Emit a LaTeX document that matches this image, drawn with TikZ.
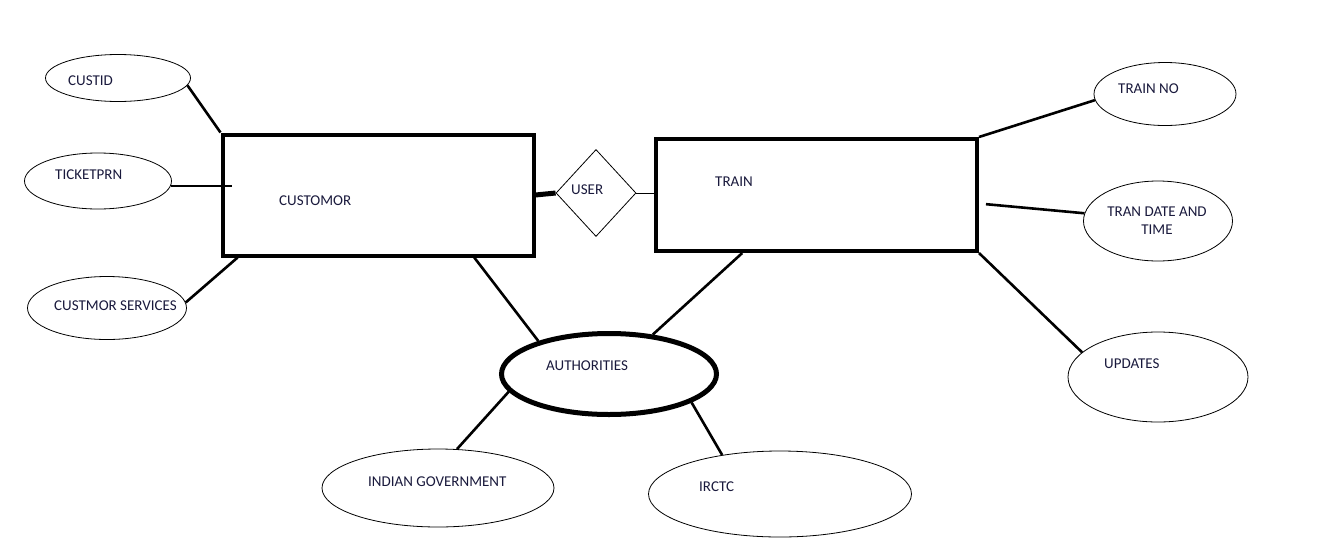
\documentclass[tikz,border=0pt]{standalone}
\usepackage{fontspec}
\setmainfont{Carlito}
\usetikzlibrary{shapes.geometric,positioning}
\definecolor{inkblue}{RGB}{25,25,60}

\begin{document}
\begin{tikzpicture}[x=1pt, y=-1pt,
    entity/.style={draw, line width=4pt, rectangle, inner sep=0pt},
    attrib/.style={draw, line width=0.8pt, ellipse, inner sep=0pt},
    rel/.style={draw, line width=0.8pt, diamond, inner sep=0pt},
    txt/.style={anchor=base west, inner sep=0pt, text=inkblue, font=\fontsize{15}{18}\selectfont},
    link/.style={line width=2.6pt}]

    \useasboundingbox (0,0) rectangle (1326,547);

    % Entities
    \node[entity, minimum width=311pt, minimum height=121pt] (customor) at (378,195) {};
    \node[entity, minimum width=321pt, minimum height=112pt] (train) at (816.5,195) {};
    \node[txt] (customortxt) at (279,205) {CUSTOMOR};
    \node[txt] (traintxt) at (715,186) {TRAIN};

    % Relationship
    \node[rel, minimum width=80pt, minimum height=87pt] (user) at (596,193) {};
    \node[txt] (usertxt) at (571,194) {USER};

    % Customer attributes
    \node[attrib, minimum width=145pt, minimum height=47pt] (custid) at (118,78) {};
    \node[attrib, minimum width=147pt, minimum height=56pt] (ticketprn) at (98,181) {};
    \node[attrib, minimum width=159pt, minimum height=63pt] (services) at (107,308) {};
    \node[txt] (custidtxt) at (68,85) {CUSTID};
    \node[txt] (ticketprntxt) at (55,179) {TICKETPRN};
    \node[txt] (servicestxt) at (54,310) {CUSTMOR SERVICES};

    % Train attributes
    \node[attrib, minimum width=142pt, minimum height=63pt] (trainno) at (1165,94) {};
    \node[attrib, minimum width=149pt, minimum height=80pt] (datetime) at (1158,221) {};
    \node[attrib, minimum width=180pt, minimum height=90pt] (updates) at (1158,377) {};
    \node[txt] (trainnotxt) at (1118,93) {TRAIN NO};
    \node[txt, anchor=center, align=center] (datetimetxt) at (1157,221) {TRAN DATE AND\\TIME};
    \node[txt] (updatestxt) at (1104,368) {UPDATES};

    % Authorities and below
    \node[draw, ellipse, line width=5pt, inner sep=0pt, minimum width=215pt, minimum height=81pt] (auth) at (609,374) {};
    \node[attrib, minimum width=232pt, minimum height=78pt] (indiangov) at (438,488) {};
    \node[attrib, minimum width=263pt, minimum height=86pt] (irctc) at (780,494) {};
    \node[txt] (authtxt) at (546,370) {AUTHORITIES};
    \node[txt] (indiangovtxt) at (368,486) {INDIAN GOVERNMENT};
    \node[txt] (irctctxt) at (699,491) {IRCTC};

    % Connectors
    \draw[link] (custid.-6) -- (customor.north west);
    \draw[link, shorten >=-11pt] (ticketprn.-4) -- (ticketprn.-4 -| customor.west);
    \draw[link] (services.4) -- (customor.204);
    \draw[line width=5pt] (customor.east) -- (user.west);
    \draw[line width=0.8pt] (user.east) -- (user.east -| train.west);
    \draw[link] (train.north east) -- (trainno.185);
    \draw[link, shorten <=7pt] (train.-3) -- (datetime.174);
    \draw[link] (train.south east) -- (updates.162);
    \draw[link] (customor.-33) -- (auth.155);
    \draw[link] (train.218) -- (auth.42);
    \draw[link] (auth.190) -- (indiangov.64);
    \draw[link] (auth.-19) -- (irctc.146);

\end{tikzpicture}
\end{document}
